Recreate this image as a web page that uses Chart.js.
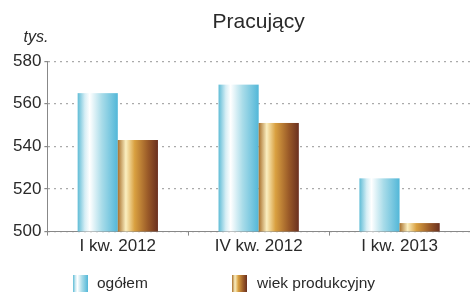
<!DOCTYPE html>
<html><head><meta charset="utf-8">
<script src="https://cdn.jsdelivr.net/npm/chart.js@4/dist/chart.umd.min.js"></script>
<style>html,body{margin:0;padding:0;background:#fff}#wrap{width:470px;height:293px;position:relative}</style>
</head><body><div id="wrap"><canvas id="c"></canvas></div>
<script>
const categories = ["I kw. 2012", "IV kw. 2012", "I kw. 2013"];
const ogolem = [565, 569, 525];
const wiekProdukcyjny = [543, 551, 504];
const seriesNames = ["ogółem", "wiek produkcyjny"];
const yTicks = [500, 520, 540, 560, 580];
const titleText = "Pracujący";
const unitText = "tys.";

const STOPS = [
  [[0,'#5fbcd6'],[0.18,'#d6eef5'],[0.3,'#ffffff'],[0.6,'#a9dce9'],[1,'#52b7d8']],
  [[0,'#a8702c'],[0.2,'#fbefc0'],[0.42,'#d9a040'],[0.75,'#9a5a28'],[1,'#6a3020']]
];
function grad(ctx,x0,x1,stops){const g=ctx.createLinearGradient(x0,0,x1,0);stops.forEach(s=>g.addColorStop(s[0],s[1]));return g;}
const FONT = '"Liberation Sans", Arial, sans-serif';
const TXT = '#2a2a2a';

const plug = {
  id:'custom',
  afterDatasetsDraw(chart){
    const ctx = chart.ctx, a = chart.chartArea;
    ctx.save();
    ctx.beginPath(); ctx.rect(a.left, a.top, a.right-a.left, a.bottom-a.top); ctx.clip();
    chart.data.datasets.forEach((ds,i)=>{
      chart.getDatasetMeta(i).data.forEach(el=>{
        const p = el.getProps(['x','y','base','width'], true);
        const x0 = p.x - p.width/2;
        ctx.fillStyle = grad(ctx, x0, x0+p.width, STOPS[i]);
        ctx.fillRect(x0, Math.min(p.y,p.base), p.width, Math.abs(p.base-p.y));
      });
    });
    ctx.restore();
  },
  afterDraw(chart){
    const ctx = chart.ctx;
    ctx.save();
    ctx.fillStyle = TXT;
    ctx.font = 'italic 16px ' + FONT;
    ctx.textAlign = 'center'; ctx.textBaseline = 'middle';
    ctx.fillText(unitText, 36, 38);
    const items = [{bx:73, tx:97},{bx:232, tx:257}];
    ctx.font = '15.5px ' + FONT;
    ctx.textAlign = 'left';
    items.forEach((it,i)=>{
      ctx.fillStyle = grad(ctx, it.bx, it.bx+15, STOPS[i]);
      ctx.fillRect(it.bx, 275, 15, 17);
      ctx.fillStyle = TXT;
      ctx.fillText(seriesNames[i], it.tx, 284);
    });
    ctx.restore();
  }
};

new Chart(document.getElementById('c'), {
  type:'bar',
  data:{
    labels: categories,
    datasets:[
      {label: seriesNames[0], data: ogolem, backgroundColor:'rgba(0,0,0,0)', borderWidth:0},
      {label: seriesNames[1], data: wiekProdukcyjny, backgroundColor:'rgba(0,0,0,0)', borderWidth:0}
    ]
  },
  options:{
    responsive:true, maintainAspectRatio:false, animation:false,
    layout:{padding:{left:10,right:0,top:0,bottom:35}},
    datasets:{bar:{categoryPercentage:0.57, barPercentage:1}},
    plugins:{
      legend:{display:false},
      tooltip:{enabled:false},
      title:{display:true, text:titleText, fullSize:false, color:TXT,
        font:{family:FONT, size:21, weight:'normal'}, padding:{top:10,bottom:26}}
    },
    scales:{
      x:{
        grid:{display:true, drawOnChartArea:false, tickLength:4, color:'#888'},
        border:{color:'#888'},
        ticks:{color:TXT, font:{family:FONT, size:17}, padding:1}
      },
      y:{
        min:500, max:580,
        afterBuildTicks(s){ s.ticks = yTicks.map(v=>({value:v})); },
        grid:{color:'#aaa', lineWidth:1.2, tickLength:3, tickColor:'#888'},
        border:{color:'#888', dash:[2,4]},
        ticks:{color:TXT, font:{family:FONT, size:17}, padding:3}
      }
    }
  },
  plugins:[plug]
});
</script></body></html>
